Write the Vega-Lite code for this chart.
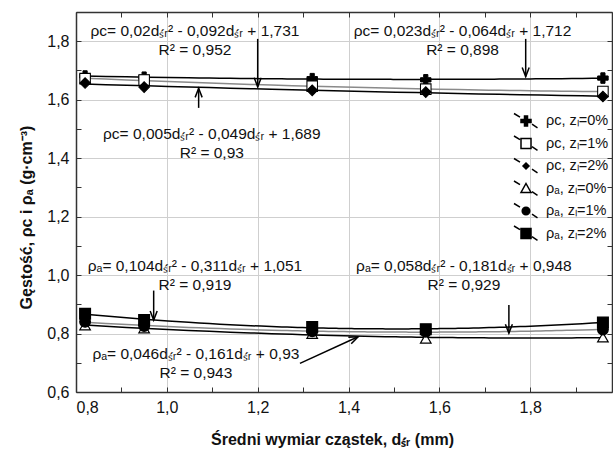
{
 "$schema": "https://vega.github.io/schema/vega-lite/v6.json",
 "width": 536, "height": 380,
 "autosize": "none",
 "padding": {"left": 76, "top": 12, "right": 1, "bottom": 57},
 "background": "white",
 "config": {"font": "Liberation Sans", "view": {"stroke": null}},
 "datasets": {
  "pts": [
   {"d": 0.82, "rho": 1.681, "series": "\u03c1c, z\u2097=0%"},
   {"d": 0.95, "rho": 1.677, "series": "\u03c1c, z\u2097=0%"},
   {"d": 1.32, "rho": 1.672, "series": "\u03c1c, z\u2097=0%"},
   {"d": 1.57, "rho": 1.668, "series": "\u03c1c, z\u2097=0%"},
   {"d": 1.96, "rho": 1.674, "series": "\u03c1c, z\u2097=0%"},
   {"d": 0.82, "rho": 1.672, "series": "\u03c1c, z\u2097=1%"},
   {"d": 0.95, "rho": 1.667, "series": "\u03c1c, z\u2097=1%"},
   {"d": 1.32, "rho": 1.646, "series": "\u03c1c, z\u2097=1%"},
   {"d": 1.57, "rho": 1.636, "series": "\u03c1c, z\u2097=1%"},
   {"d": 1.96, "rho": 1.628, "series": "\u03c1c, z\u2097=1%"},
   {"d": 0.82, "rho": 1.657, "series": "\u03c1c, z\u2097=2%"},
   {"d": 0.95, "rho": 1.643, "series": "\u03c1c, z\u2097=2%"},
   {"d": 1.32, "rho": 1.632, "series": "\u03c1c, z\u2097=2%"},
   {"d": 1.57, "rho": 1.626, "series": "\u03c1c, z\u2097=2%"},
   {"d": 1.96, "rho": 1.611, "series": "\u03c1c, z\u2097=2%"},
   {"d": 0.82, "rho": 0.828, "series": "\u03c1\u2090, z\u2097=0%"},
   {"d": 0.95, "rho": 0.818, "series": "\u03c1\u2090, z\u2097=0%"},
   {"d": 1.32, "rho": 0.799, "series": "\u03c1\u2090, z\u2097=0%"},
   {"d": 1.57, "rho": 0.783, "series": "\u03c1\u2090, z\u2097=0%"},
   {"d": 1.96, "rho": 0.787, "series": "\u03c1\u2090, z\u2097=0%"},
   {"d": 0.82, "rho": 0.840, "series": "\u03c1\u2090, z\u2097=1%"},
   {"d": 0.95, "rho": 0.826, "series": "\u03c1\u2090, z\u2097=1%"},
   {"d": 1.32, "rho": 0.808, "series": "\u03c1\u2090, z\u2097=1%"},
   {"d": 1.57, "rho": 0.806, "series": "\u03c1\u2090, z\u2097=1%"},
   {"d": 1.96, "rho": 0.814, "series": "\u03c1\u2090, z\u2097=1%"},
   {"d": 0.82, "rho": 0.868, "series": "\u03c1\u2090, z\u2097=2%"},
   {"d": 0.95, "rho": 0.846, "series": "\u03c1\u2090, z\u2097=2%"},
   {"d": 1.32, "rho": 0.822, "series": "\u03c1\u2090, z\u2097=2%"},
   {"d": 1.57, "rho": 0.815, "series": "\u03c1\u2090, z\u2097=2%"},
   {"d": 1.96, "rho": 0.838, "series": "\u03c1\u2090, z\u2097=2%"}
  ],
  "eqs": [
   {"x": 1.062, "y": 1.818, "t": "\u03c1c= 0,02d\u209b\u0301\u1d63\u00b2 - 0,092d\u209b\u0301\u1d63 + 1,731\nR\u00b2 = 0,952"},
   {"x": 1.651, "y": 1.818, "t": "\u03c1c= 0,023d\u209b\u0301\u1d63\u00b2 - 0,064d\u209b\u0301\u1d63 + 1,712\nR\u00b2 = 0,898"},
   {"x": 1.099, "y": 1.4645, "t": "\u03c1c= 0,005d\u209b\u0301\u1d63\u00b2 - 0,049d\u209b\u0301\u1d63 + 1,689\nR\u00b2 = 0,93"},
   {"x": 1.062, "y": 1.015, "t": "\u03c1\u2090= 0,104d\u209b\u0301\u1d63\u00b2 - 0,311d\u209b\u0301\u1d63 + 1,051\nR\u00b2 = 0,919"},
   {"x": 1.654, "y": 1.015, "t": "\u03c1\u2090= 0,058d\u209b\u0301\u1d63\u00b2 - 0,181d\u209b\u0301\u1d63 + 0,948\nR\u00b2 = 0,929"},
   {"x": 1.064, "y": 0.712, "t": "\u03c1\u2090= 0,046d\u209b\u0301\u1d63\u00b2 - 0,161d\u209b\u0301\u1d63 + 0,93\nR\u00b2 = 0,943"}
  ],
  "arrows": [
   {"x": 1.2, "y": 1.808, "x2": 1.2, "y2": 1.644, "dir": "down"},
   {"x": 1.79, "y": 1.808, "x2": 1.79, "y2": 1.679, "dir": "down"},
   {"x": 1.07, "y": 1.572, "x2": 1.07, "y2": 1.639, "dir": "up"},
   {"x": 0.971, "y": 0.947, "x2": 0.971, "y2": 0.846, "dir": "down"},
   {"x": 1.753, "y": 0.898, "x2": 1.753, "y2": 0.801, "dir": "down"},
   {"x": 1.293, "y": 0.698, "x2": 1.421, "y2": 0.789, "dir": "diag"}
  ]
 },
 "layer": [
  {
   "data": {"name": "pts"},
   "transform": [{"regression": "rho", "on": "d", "groupby": ["series"], "method": "poly", "order": 2}],
   "mark": {"type": "line", "strokeWidth": 1.5},
   "encoding": {
    "x": {"field": "d", "type": "quantitative", "scale": {"domain": [0.8, 1.98], "nice": false, "zero": false},
     "axis": {"orient": "bottom", "values": [0.8,0.9,1.0,1.1,1.2,1.3,1.4,1.5,1.6,1.7,1.8,1.9],
      "labelExpr": "round(datum.value*10)%2==0 ? replace(format(datum.value,'.1f'),'.',',') : ''",
      "labelFontSize": 16, "labelColor": "#111", "labelFont": "Liberation Sans", "labelPadding": 12,
      "tickSize": -5, "tickColor": "#333", "tickWidth": 1,
      "domainColor": "#333", "domainWidth": 1.5,
      "grid": true, "gridColor": "#cfcfcf", "gridOpacity": {"condition": {"test": "round(datum.value*10)%2==0", "value": 1}, "value": 0},
      "title": "\u015aredni wymiar cz\u0105stek, d\u209b\u0301\u1d63 (mm)", "titleFontSize": 16, "titleFontWeight": "bold", "titleFont": "Liberation Sans", "titleColor": "#111",
      "titleX": 256, "titleY": 52, "titleBaseline": "alphabetic"}},
    "y": {"field": "rho", "type": "quantitative", "scale": {"domain": [0.6, 1.9], "nice": false, "zero": false},
     "axis": {"orient": "left", "values": [0.6,0.7,0.8,0.9,1.0,1.1,1.2,1.3,1.4,1.5,1.6,1.7,1.8,1.9],
      "labelExpr": "round(datum.value*10)%2==0 ? replace(format(datum.value,'.1f'),'.',',') : ''",
      "labelFontSize": 16, "labelColor": "#111", "labelFont": "Liberation Sans", "labelPadding": 12,
      "tickSize": -5, "tickColor": "#333", "tickWidth": 1,
      "domainColor": "#333", "domainWidth": 1.5,
      "grid": true, "gridColor": "#cfcfcf", "gridOpacity": {"condition": {"test": "round(datum.value*10)%2==0", "value": 1}, "value": 0},
      "title": "G\u0119sto\u015b\u0107, \u03c1c i \u03c1\u2090 (g\u00b7cm\u207b\u00b3)", "titleFontSize": 16, "titleFontWeight": "bold", "titleFont": "Liberation Sans", "titleColor": "#111",
      "titleX": -50, "titleY": 205, "titleBaseline": "middle", "titleAlign": "center"}},
    "color": {"field": "series", "type": "nominal", "legend": null,
     "scale": {"domain": ["\u03c1c, z\u2097=0%", "\u03c1c, z\u2097=1%", "\u03c1c, z\u2097=2%", "\u03c1\u2090, z\u2097=0%", "\u03c1\u2090, z\u2097=1%", "\u03c1\u2090, z\u2097=2%"],
      "range": ["#000000", "#8a8a8a", "#000000", "#000000", "#8a8a8a", "#000000"]}}
   }
  },
  {
   "data": {"name": "pts"},
   "mark": {"type": "point", "filled": true, "stroke": "black", "opacity": 1},
   "encoding": {
    "x": {"field": "d", "type": "quantitative", "scale": {"domain": [0.8, 1.98], "nice": false, "zero": false},
     "axis": {"orient": "top", "values": [0.8,0.9,1.0,1.1,1.2,1.3,1.4,1.5,1.6,1.7,1.8,1.9], "labels": false, "tickSize": -5, "tickColor": "#333", "domainColor": "#333", "domainWidth": 1.5, "grid": false, "title": null}},
    "y": {"field": "rho", "type": "quantitative", "scale": {"domain": [0.6, 1.9], "nice": false, "zero": false},
     "axis": {"orient": "right", "values": [0.6,0.7,0.8,0.9,1.0,1.1,1.2,1.3,1.4,1.5,1.6,1.7,1.8,1.9], "labels": false, "tickSize": -5, "tickColor": "#333", "domainColor": "#333", "domainWidth": 1.5, "grid": false, "title": null}},
    "shape": {"field": "series", "type": "nominal", "legend": null,
     "scale": {"domain": ["\u03c1c, z\u2097=0%", "\u03c1c, z\u2097=1%", "\u03c1c, z\u2097=2%", "\u03c1\u2090, z\u2097=0%", "\u03c1\u2090, z\u2097=1%", "\u03c1\u2090, z\u2097=2%"],
      "range": ["cross", "square", "diamond", "triangle-up", "circle", "square"]}},
    "fill": {"field": "series", "type": "nominal", "legend": null,
     "scale": {"domain": ["\u03c1c, z\u2097=0%", "\u03c1c, z\u2097=1%", "\u03c1c, z\u2097=2%", "\u03c1\u2090, z\u2097=0%", "\u03c1\u2090, z\u2097=1%", "\u03c1\u2090, z\u2097=2%"],
      "range": ["#000000", "#ffffff", "#000000", "#ffffff", "#000000", "#000000"]}},
    "size": {"field": "series", "type": "nominal", "legend": null,
     "scale": {"domain": ["\u03c1c, z\u2097=0%", "\u03c1c, z\u2097=1%", "\u03c1c, z\u2097=2%", "\u03c1\u2090, z\u2097=0%", "\u03c1\u2090, z\u2097=1%", "\u03c1\u2090, z\u2097=2%"],
      "range": [110, 115, 45, 100, 70, 120]}},
    "strokeWidth": {"field": "series", "type": "nominal", "legend": null,
     "scale": {"domain": ["\u03c1c, z\u2097=0%", "\u03c1c, z\u2097=1%", "\u03c1c, z\u2097=2%", "\u03c1\u2090, z\u2097=0%", "\u03c1\u2090, z\u2097=1%", "\u03c1\u2090, z\u2097=2%"],
      "range": [1, 1.3, 1, 2.2, 1, 1]}}
   }
  },
  {
   "data": {"name": "arrows"},
   "mark": {"type": "rule", "stroke": "black", "strokeWidth": 1.5},
   "encoding": {
    "x": {"field": "x", "type": "quantitative", "axis": null, "scale": {"domain": [0.8, 1.98], "nice": false, "zero": false}},
    "y": {"field": "y", "type": "quantitative", "axis": null, "scale": {"domain": [0.6, 1.9], "nice": false, "zero": false}},
    "x2": {"field": "x2"},
    "y2": {"field": "y2"}
   }
  },
  {
   "data": {"name": "arrows"},
   "transform": [{"filter": "datum.dir == 'down'"}],
   "mark": {"type": "point", "shape": "M-1,-2.6L0,0L1,-2.6", "filled": false, "stroke": "black", "strokeWidth": 1.5, "size": 49, "opacity": 1},
   "encoding": {
    "x": {"field": "x2", "type": "quantitative", "axis": null, "scale": {"domain": [0.8, 1.98], "nice": false, "zero": false}},
    "y": {"field": "y2", "type": "quantitative", "axis": null, "scale": {"domain": [0.6, 1.9], "nice": false, "zero": false}}
   }
  },
  {
   "data": {"name": "arrows"},
   "transform": [{"filter": "datum.dir == 'up'"}],
   "mark": {"type": "point", "shape": "M-1,-2.6L0,0L1,-2.6", "angle": 180, "filled": false, "stroke": "black", "strokeWidth": 1.5, "size": 49, "opacity": 1},
   "encoding": {
    "x": {"field": "x2", "type": "quantitative", "axis": null, "scale": {"domain": [0.8, 1.98], "nice": false, "zero": false}},
    "y": {"field": "y2", "type": "quantitative", "axis": null, "scale": {"domain": [0.6, 1.9], "nice": false, "zero": false}}
   }
  },
  {
   "data": {"name": "arrows"},
   "transform": [{"filter": "datum.dir == 'diag'"}],
   "mark": {"type": "point", "shape": "M-1,-2.6L0,0L1,-2.6", "angle": 245.5, "filled": false, "stroke": "black", "strokeWidth": 1.5, "size": 49, "opacity": 1},
   "encoding": {
    "x": {"field": "x2", "type": "quantitative", "axis": null, "scale": {"domain": [0.8, 1.98], "nice": false, "zero": false}},
    "y": {"field": "y2", "type": "quantitative", "axis": null, "scale": {"domain": [0.6, 1.9], "nice": false, "zero": false}}
   }
  },
  {
   "data": {"name": "eqs"},
   "mark": {"type": "text", "align": "center", "baseline": "alphabetic", "lineBreak": "\n", "lineHeight": 19, "fontSize": 15.5, "font": "Liberation Sans", "color": "#111"},
   "encoding": {
    "x": {"field": "x", "type": "quantitative", "axis": null, "scale": {"domain": [0.8, 1.98], "nice": false, "zero": false}},
    "y": {"field": "y", "type": "quantitative", "axis": null, "scale": {"domain": [0.6, 1.9], "nice": false, "zero": false}},
    "text": {"field": "t"}
   }
  },
  {
   "data": {"name": "pts"},
   "transform": [{"filter": "false"}],
   "mark": {"type": "point", "filled": true, "stroke": "black", "strokeWidth": 1.3, "size": 400, "opacity": 1},
   "encoding": {
    "shape": {"field": "series", "type": "nominal",
     "scale": {"domain": ["\u03c1c, z\u2097=0%", "\u03c1c, z\u2097=1%", "\u03c1c, z\u2097=2%", "\u03c1\u2090, z\u2097=0%", "\u03c1\u2090, z\u2097=1%", "\u03c1\u2090, z\u2097=2%"],
      "range": [
       "M-1.2,-0.75L-0.6,-0.38M0.6,0.32L1.15,0.68M-0.15,-0.5H0.15V-0.15H0.5V0.15H0.15V0.5H-0.15V0.15H-0.5V-0.15H-0.15Z",
       "M-1.2,-0.75L-0.6,-0.38M0.6,0.32L1.15,0.68M-0.5,-0.5H0.5V0.5H-0.5Z",
       "M-1.2,-0.75L-0.6,-0.38M0.6,0.32L1.15,0.68M0,-0.3L0.3,0L0,0.3L-0.3,0Z",
       "M-1.2,-0.75L-0.6,-0.38M0.6,0.32L1.15,0.68M0,-0.5L0.5,0.4L-0.5,0.4Z",
       "M-1.2,-0.75L-0.6,-0.38M0.6,0.32L1.15,0.68M-0.38,0A0.38,0.38,0,1,0,0.38,0A0.38,0.38,0,1,0,-0.38,0Z",
       "M-1.2,-0.75L-0.6,-0.38M0.6,0.32L1.15,0.68M-0.5,-0.5H0.5V0.5H-0.5Z"
      ]},
     "legend": {"orient": "none", "legendX": 439, "legendY": 98, "title": null, "labelFontSize": 14.5, "labelFont": "Liberation Sans", "labelColor": "#111", "labelOffset": 9, "rowPadding": 1.5, "padding": 0, "symbolSize": 400,
      "encode": {"symbols": {"update": {"stroke": {"value": "black"}, "strokeWidth": {"value": 1.3}, "opacity": {"value": 1}}}}}},
    "fill": {"field": "series", "type": "nominal",
     "scale": {"domain": ["\u03c1c, z\u2097=0%", "\u03c1c, z\u2097=1%", "\u03c1c, z\u2097=2%", "\u03c1\u2090, z\u2097=0%", "\u03c1\u2090, z\u2097=1%", "\u03c1\u2090, z\u2097=2%"],
      "range": ["#000000", "#ffffff", "#000000", "#ffffff", "#000000", "#000000"]}}
   }
  }
 ],
 "resolve": {"axis": {"x": "independent", "y": "independent"}, "scale": {"shape": "independent", "fill": "independent"}}
}
